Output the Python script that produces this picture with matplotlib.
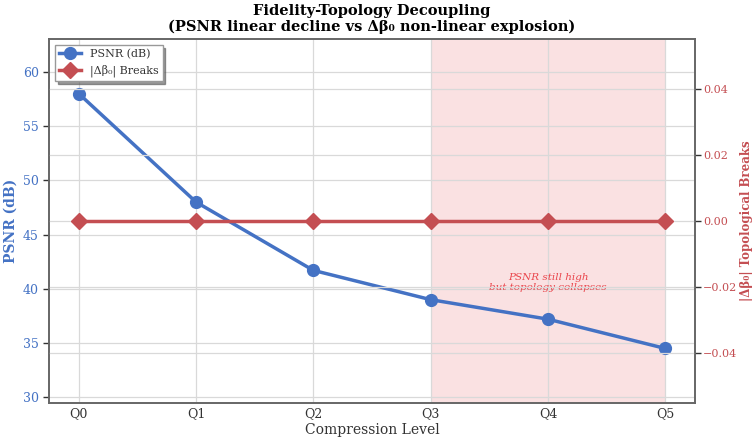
import matplotlib
matplotlib.use("Agg")
import matplotlib.pyplot as plt
import numpy as np

# Compression levels and measured metrics
levels = ["Q0", "Q1", "Q2", "Q3", "Q4", "Q5"]
psnr_db = [58.0, 48.0, 41.7, 39.0, 37.2, 34.5]
beta0_breaks = [0, 0, 0, 0, 0, 0]

plt.rcParams["font.family"] = ["DejaVu Serif"]

blue = "#4472C4"
red = "#C44E52"
spine_col = "#666666"
grid_col = "#d9d9d9"

fig = plt.figure(figsize=(7.53, 4.44), dpi=100)
ax1 = fig.add_axes([0.0655, 0.093, 0.857, 0.8185])
ax2 = ax1.twinx()

x = np.arange(len(levels))

# Region where topology collapses
ax1.axvspan(3, 5, color="#f4b6b8", alpha=0.4, zorder=0, lw=0)

l1, = ax1.plot(x, psnr_db, "-o", color=blue, lw=2.5, ms=8.5, label="PSNR (dB)", zorder=3)
l2, = ax2.plot(x, beta0_breaks, "-D", color=red, lw=2.5, ms=8.5, label="|Δβ₀| Breaks", zorder=3)

ax1.set_ylim(min(psnr_db) - 5, max(psnr_db) + 5)
ax1.set_xlim(-0.25, 5.25)
ax1.set_xticks(x)
ax1.set_xticklabels(levels)

for ax in (ax1, ax2):
    ax.grid(True, color=grid_col, lw=0.9, zorder=0)
    ax.set_axisbelow(True)
    for s in ax.spines.values():
        s.set_color(spine_col)
        s.set_linewidth(1.2)

ax1.tick_params(axis="y", colors=blue, labelsize=9, length=4, width=1, color="#333333")
ax1.tick_params(axis="x", labelsize=9, length=0, labelcolor="#333333")
ax2.tick_params(axis="y", colors=red, labelsize=8, length=4, width=1, color="#333333", pad=2)
for t in ax1.get_yticklabels():
    t.set_color(blue)
for t in ax2.get_yticklabels():
    t.set_color(red)

ax1.set_ylabel("PSNR (dB)", color=blue, fontsize=10, fontweight="bold", labelpad=4)
ax2.set_ylabel("|Δβ₀| Topological Breaks", color=red, fontsize=8.5, fontweight="bold")
ax2.yaxis.set_label_coords(1.07, 0.5)
ax1.set_xlabel("Compression Level", fontsize=10, color="#333333", labelpad=2)

ax1.set_title("Fidelity-Topology Decoupling\n(PSNR linear decline vs Δβ₀ non-linear explosion)",
              fontsize=10.5, fontweight="bold", pad=6, linespacing=1.1)

ax1.text(4.0, 40.6, "PSNR still high\nbut topology collapses", color="#e8343b",
         fontsize=7.5, style="italic", ha="center", va="center", alpha=0.9, zorder=1)

ax2.legend(handles=[l1, l2], loc="upper left", fontsize=8, frameon=True,
           shadow={"ox": 2, "oy": -2, "color": "#555555", "alpha": 0.6},
           fancybox=False, edgecolor="#999999", framealpha=1,
           borderpad=0.35, handlelength=2.0, labelcolor="#333333")

fig.savefig("out.png", dpi=100)
